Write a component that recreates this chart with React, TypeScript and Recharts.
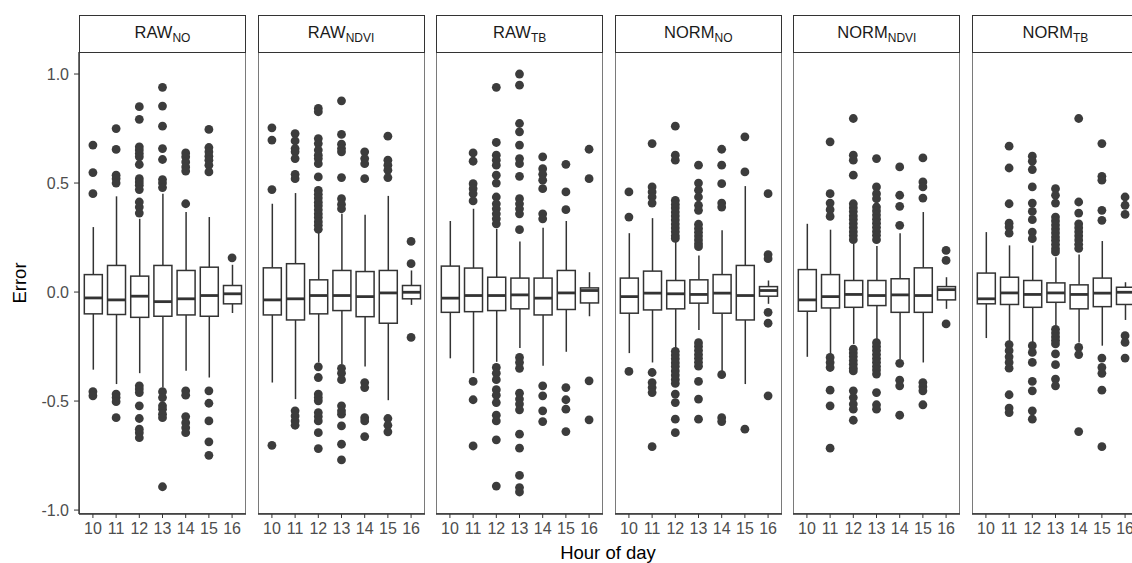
import { ComposedChart, Bar, Scatter, XAxis, YAxis } from 'recharts'

const hours = [10, 11, 12, 13, 14, 15, 16]
const yTicks = [-1, -0.5, 0, 0.5, 1]

// facet titles: main text + subscript
const facetMain = ['RAW', 'RAW', 'RAW', 'NORM', 'NORM', 'NORM']
const facetSub = ['NO', 'NDVI', 'TB', 'NO', 'NDVI', 'TB']

// [lower whisker, q1, median, q3, upper whisker] per hour
const rawNoBoxes = [
  [-0.356, -0.1, -0.027, 0.08, 0.298],
  [-0.422, -0.103, -0.036, 0.122, 0.439],
  [-0.372, -0.116, -0.019, 0.073, 0.336],
  [-0.438, -0.111, -0.044, 0.122, 0.451],
  [-0.361, -0.105, -0.031, 0.099, 0.367],
  [-0.392, -0.111, -0.016, 0.114, 0.344],
  [-0.096, -0.054, -0.008, 0.03, 0.125],
]
const rawNoOutliers = [
  [0.674, 0.548, 0.451, -0.457, -0.476],
  [0.75, 0.654, 0.536, 0.52, 0.5, -0.468, -0.484, -0.503, -0.576],
  [0.85, 0.792, 0.666, 0.651, 0.635, 0.62, 0.585, 0.52, 0.505, 0.49, 0.47, 0.413, 0.39, 0.362, -0.43, -0.445, -0.461, -0.522, -0.58, -0.629, -0.645, -0.668],
  [0.939, 0.853, 0.761, 0.658, 0.608, 0.516, 0.5, 0.479, -0.457, -0.484, -0.522, -0.537, -0.56, -0.576, -0.893],
  [0.638, 0.62, 0.597, 0.574, 0.555, 0.405, -0.453, -0.473, -0.571, -0.599, -0.622, -0.645],
  [0.746, 0.663, 0.643, 0.623, 0.605, 0.582, 0.551, -0.453, -0.51, -0.591, -0.687, -0.749],
  [0.157],
]

const rawNdviBoxes = [
  [-0.415, -0.105, -0.036, 0.111, 0.405],
  [-0.491, -0.128, -0.031, 0.13, 0.454],
  [-0.323, -0.1, -0.016, 0.056, 0.275],
  [-0.33, -0.085, -0.016, 0.099, 0.359],
  [-0.341, -0.113, -0.021, 0.094, 0.355],
  [-0.496, -0.143, -0.004, 0.099, 0.441],
  [-0.059, -0.031, -0.001, 0.03, 0.099],
]
const rawNdviOutliers = [
  [0.753, 0.697, 0.47, -0.703],
  [0.727, 0.693, 0.658, 0.643, 0.612, 0.54, 0.52, -0.545, -0.568, -0.591, -0.611],
  [0.842, 0.827, 0.704, 0.681, 0.651, 0.628, 0.612, 0.589, 0.528, 0.466, 0.448, 0.431, 0.412, 0.396, 0.377, 0.359, 0.342, 0.323, 0.306, 0.288, -0.343, -0.392, -0.468, -0.484, -0.499, -0.553, -0.571, -0.591, -0.645, -0.718],
  [0.877, 0.723, 0.678, 0.658, 0.643, 0.525, 0.428, 0.402, 0.382, -0.35, -0.372, -0.402, -0.522, -0.545, -0.56, -0.614, -0.698, -0.77],
  [0.643, 0.612, 0.589, 0.52, -0.415, -0.438, -0.576, -0.591, -0.663],
  [0.715, 0.605, 0.582, 0.559, 0.525, -0.58, -0.611, -0.641],
  [0.232, 0.13, -0.208],
]

const rawTbBoxes = [
  [-0.304, -0.093, -0.028, 0.119, 0.326],
  [-0.372, -0.09, -0.016, 0.11, 0.382],
  [-0.32, -0.085, -0.016, 0.068, 0.29],
  [-0.257, -0.077, -0.013, 0.064, 0.232],
  [-0.338, -0.105, -0.028, 0.064, 0.295],
  [-0.274, -0.08, -0.004, 0.099, 0.326],
  [-0.111, -0.05, 0.007, 0.019, 0.091],
]
const rawTbOutliers = [
  [],
  [0.638, 0.6, 0.497, 0.474, 0.451, 0.418, -0.41, -0.494, -0.706],
  [0.939, 0.686, 0.628, 0.605, 0.582, 0.536, 0.5, 0.436, 0.405, 0.382, 0.359, 0.336, 0.313, -0.346, -0.372, -0.402, -0.448, -0.473, -0.507, -0.565, -0.591, -0.678, -0.89],
  [1.0, 0.949, 0.773, 0.735, 0.674, 0.612, 0.589, 0.531, 0.428, 0.405, 0.382, 0.359, 0.286, -0.3, -0.323, -0.35, -0.464, -0.491, -0.514, -0.54, -0.652, -0.716, -0.841, -0.897, -0.917],
  [0.62, 0.566, 0.54, 0.513, 0.474, 0.359, 0.336, -0.43, -0.476, -0.545, -0.594],
  [0.586, 0.459, 0.378, -0.438, -0.494, -0.537, -0.64],
  [0.655, 0.52, -0.407, -0.586],
]

const normNoBoxes = [
  [-0.28, -0.097, -0.021, 0.064, 0.27],
  [-0.323, -0.082, -0.005, 0.096, 0.339],
  [-0.261, -0.077, -0.008, 0.053, 0.237],
  [-0.174, -0.051, -0.011, 0.056, 0.168],
  [-0.369, -0.097, -0.005, 0.08, 0.283],
  [-0.422, -0.128, -0.016, 0.122, 0.486],
  [-0.054, -0.019, 0.007, 0.025, 0.053],
]
const normNoOutliers = [
  [0.459, 0.344, -0.364],
  [0.681, 0.482, 0.459, 0.436, 0.408, -0.369, -0.415, -0.438, -0.461, -0.709],
  [0.761, 0.628, 0.605, 0.42, 0.402, 0.386, 0.367, 0.349, 0.331, 0.312, 0.294, 0.276, 0.258, 0.246, -0.272, -0.289, -0.306, -0.324, -0.341, -0.362, -0.381, -0.401, -0.419, -0.468, -0.507, -0.583, -0.645],
  [0.582, 0.5, 0.467, 0.436, 0.398, 0.375, 0.311, 0.292, 0.274, 0.257, 0.239, 0.222, 0.208, -0.232, -0.249, -0.268, -0.287, -0.304, -0.322, -0.34, -0.41, -0.491, -0.583],
  [0.655, 0.582, 0.497, 0.408, 0.39, -0.379, -0.576, -0.594],
  [0.712, 0.551, -0.629],
  [0.451, 0.172, 0.153, -0.093, -0.143, -0.476],
]

const normNdviBoxes = [
  [-0.297, -0.088, -0.036, 0.103, 0.313],
  [-0.287, -0.073, -0.021, 0.08, 0.286],
  [-0.238, -0.07, -0.011, 0.053, 0.221],
  [-0.215, -0.062, -0.016, 0.053, 0.211],
  [-0.307, -0.093, -0.013, 0.061, 0.27],
  [-0.323, -0.093, -0.016, 0.111, 0.367],
  [-0.077, -0.036, 0.011, 0.025, 0.068],
]
const normNdviOutliers = [
  [],
  [0.689, 0.451, 0.408, 0.378, 0.347, -0.3, -0.323, -0.346, -0.45, -0.522, -0.716],
  [0.796, 0.628, 0.605, 0.536, 0.405, 0.387, 0.369, 0.35, 0.333, 0.314, 0.296, 0.277, 0.259, 0.24, -0.262, -0.279, -0.296, -0.314, -0.331, -0.349, -0.362, -0.453, -0.484, -0.514, -0.537, -0.588],
  [0.612, 0.482, 0.451, 0.428, 0.39, 0.372, 0.353, 0.334, 0.316, 0.297, 0.278, 0.26, 0.24, -0.232, -0.25, -0.268, -0.287, -0.305, -0.322, -0.341, -0.358, -0.376, -0.461, -0.517, -0.537],
  [0.574, 0.444, 0.393, 0.306, -0.327, -0.404, -0.43, -0.565],
  [0.615, 0.505, 0.482, 0.431, -0.415, -0.434, -0.453, -0.517],
  [0.191, 0.145, -0.146],
]

const normTbBoxes = [
  [-0.211, -0.054, -0.031, 0.087, 0.275],
  [-0.231, -0.057, -0.004, 0.068, 0.214],
  [-0.235, -0.07, -0.011, 0.053, 0.214],
  [-0.154, -0.047, -0.004, 0.042, 0.16],
  [-0.231, -0.077, -0.011, 0.033, 0.172],
  [-0.246, -0.067, -0.005, 0.064, 0.234],
  [-0.128, -0.057, -0.001, 0.022, 0.045],
]
const normTbOutliers = [
  [],
  [0.669, 0.569, 0.405, 0.316, 0.298, 0.27, -0.241, -0.269, -0.297, -0.323, -0.349, -0.471, -0.532, -0.553],
  [0.623, 0.6, 0.562, 0.482, 0.408, 0.37, 0.332, 0.275, 0.245, -0.246, -0.277, -0.323, -0.41, -0.453, -0.545, -0.583],
  [0.474, 0.444, 0.408, 0.344, 0.326, 0.307, 0.289, 0.271, 0.252, 0.236, 0.218, 0.199, 0.184, -0.171, -0.188, -0.205, -0.222, -0.238, -0.284, -0.333, -0.399, -0.43],
  [0.796, 0.413, 0.362, 0.313, 0.295, 0.276, 0.258, 0.239, 0.219, 0.2, -0.254, -0.287, -0.64],
  [0.681, 0.531, 0.513, 0.375, 0.329, -0.303, -0.346, -0.373, -0.45, -0.709],
  [0.436, 0.398, 0.356, -0.2, -0.231, -0.303],
]

const allBoxes = [rawNoBoxes, rawNdviBoxes, rawTbBoxes, normNoBoxes, normNdviBoxes, normTbBoxes]
const allOutliers = [rawNoOutliers, rawNdviOutliers, rawTbOutliers, normNoOutliers, normNdviOutliers, normTbOutliers]

const INK = '#333333'
const PANEL_LEFT = 79
const PANEL_STEP = 178.6
const PANEL_W = 167
const PANEL_TOP = 52
const PANEL_H = 462
const Y_DOMAIN = [-1.018, 1.101]
const FONT = '"Liberation Sans", Arial, Helvetica, sans-serif'

const BoxShape = (props: any) => {
  const { x, y, width, height, payload } = props
  if (!payload) return null
  const top = Math.min(y, y + height)
  const bot = Math.max(y, y + height)
  const span = payload.hi - payload.lo
  const py = (v: number) => top + ((payload.hi - v) / span) * (bot - top)
  const cx = x + width / 2
  return (
    <g>
      <line x1={cx} x2={cx} y1={py(payload.hi)} y2={py(payload.q3)} stroke={INK} strokeWidth={1.5} />
      <line x1={cx} x2={cx} y1={py(payload.q1)} y2={py(payload.lo)} stroke={INK} strokeWidth={1.5} />
      <rect x={x} y={py(payload.q3)} width={width} height={py(payload.q1) - py(payload.q3)} fill="#fff" stroke={INK} strokeWidth={1.5} />
      <line x1={x} x2={x + width} y1={py(payload.med)} y2={py(payload.med)} stroke={INK} strokeWidth={2.8} />
    </g>
  )
}

const Dot = (props: any) => <circle cx={props.cx} cy={props.cy} r={4.4} fill="#3c3c3c" />

function Facet({ index }: { index: number }) {
  const boxes = allBoxes[index]
  const outs = allOutliers[index]
  const rows = hours.map((h, i) => ({
    hour: h,
    range: [boxes[i][0], boxes[i][4]],
    lo: boxes[i][0],
    q1: boxes[i][1],
    med: boxes[i][2],
    q3: boxes[i][3],
    hi: boxes[i][4],
  }))
  const points = hours.flatMap((h, i) => outs[i].map((v) => ({ hour: h, value: v })))
  const left = PANEL_LEFT + index * PANEL_STEP
  const yW = index === 0 ? 50 : 0

  return (
    <>
      <div
        style={{
          position: 'absolute', left, top: PANEL_TOP, width: PANEL_W, height: PANEL_H,
          border: '1px solid #7a7a7a', boxSizing: 'border-box',
        }}
      />
      <div style={{ position: 'absolute', left: left - yW, top: PANEL_TOP }}>
        <ComposedChart width={PANEL_W + yW} height={PANEL_H + 30} data={rows} margin={{ top: 0, right: 0, bottom: 0, left: 0 }}>
          <XAxis
            type="number"
            dataKey="hour"
            domain={[9.4, 16.6]}
            ticks={hours}
            allowDataOverflow
            interval={0}
            height={30}
            tickSize={4}
            tickMargin={5}
            tick={{ fill: '#4d4d4d', fontSize: 16, fontFamily: FONT }}
            tickLine={{ stroke: INK }}
            axisLine={{ stroke: INK, strokeWidth: 1.4 }}
          />
          <YAxis
            type="number"
            domain={Y_DOMAIN}
            ticks={yTicks}
            allowDataOverflow
            hide={index !== 0}
            width={yW}
            interval={0}
            tickSize={5}
            tickMargin={5}
            tickFormatter={(v: number) => v.toFixed(1)}
            tick={{ fill: '#4d4d4d', fontSize: 16, fontFamily: FONT }}
            tickLine={{ stroke: INK }}
            axisLine={{ stroke: INK, strokeWidth: 1.4 }}
          />
          <Bar dataKey="range" barSize={18} shape={BoxShape} isAnimationActive={false} />
          <Scatter data={points} dataKey="value" shape={Dot} isAnimationActive={false} />
        </ComposedChart>
      </div>
      <div
        style={{
          position: 'absolute', left, top: 15, width: PANEL_W, height: 38,
          border: '1.6px solid #333', boxSizing: 'border-box', background: '#fff',
          display: 'flex', alignItems: 'center', justifyContent: 'center',
          fontSize: 16.5, color: '#1a1a1a', fontFamily: FONT,
        }}
      >
        <span>
          {facetMain[index]}
          <sub style={{ fontSize: 12, verticalAlign: '-4px' }}>{facetSub[index]}</sub>
        </span>
      </div>
    </>
  )
}

export default function App() {
  return (
    <div
      style={{
        position: 'absolute', left: 0, top: 0, width: 1132, height: 563,
        overflow: 'hidden', background: '#fff', fontFamily: FONT,
      }}
    >
      {facetMain.map((_, i) => (
        <Facet key={i} index={i} />
      ))}
      <div
        style={{
          position: 'absolute', left: 20, top: 283, fontSize: 18.5, color: '#000',
          transform: 'translate(-50%, -50%) rotate(-90deg)', whiteSpace: 'nowrap',
        }}
      >
        Error
      </div>
      <div
        style={{
          position: 'absolute', left: 608, top: 553, fontSize: 18.5, color: '#000',
          transform: 'translate(-50%, -50%)', whiteSpace: 'nowrap',
        }}
      >
        Hour of day
      </div>
    </div>
  )
}
